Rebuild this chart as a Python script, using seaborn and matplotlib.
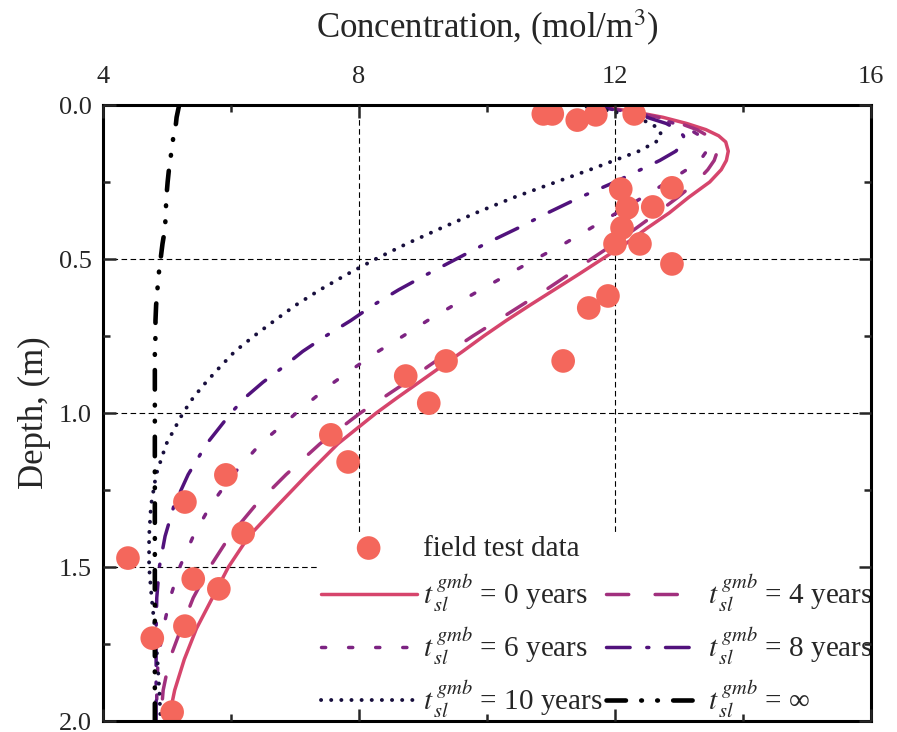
import matplotlib
matplotlib.use('Agg')
import numpy as np
import pandas as pd
import matplotlib.pyplot as plt
import seaborn as sns
from matplotlib.lines import Line2D
from matplotlib.ticker import MultipleLocator


# field test data (concentration in mol/m3, depth in m)
field_conc = [10.88, 11.02, 11.41, 11.70, 12.30, 12.09, 12.89, 12.19, 12.59, 12.11,
              12.00, 12.39, 12.89, 11.89, 11.59, 11.19, 9.36, 8.73, 9.09, 7.56,
              7.83, 5.92, 5.28, 6.19, 4.39, 5.41, 5.81, 5.28, 4.77, 5.08]
field_depth = [0.029, 0.029, 0.049, 0.032, 0.029, 0.273, 0.269, 0.334, 0.331, 0.399,
               0.451, 0.451, 0.516, 0.620, 0.659, 0.831, 0.831, 0.880, 0.968, 1.071,
               1.159, 1.201, 1.289, 1.390, 1.471, 1.539, 1.571, 1.692, 1.731, 1.971]

# model curves, all sampled at the same depths
curve_depth = [0.00, 0.02, 0.04, 0.06, 0.08, 0.10, 0.12, 0.15, 0.18, 0.21, 0.25, 0.30,
               0.35, 0.40, 0.45, 0.50, 0.55, 0.60, 0.65, 0.70, 0.75, 0.80, 0.85, 0.90,
               0.95, 1.00, 1.10, 1.20, 1.30, 1.40, 1.50, 1.60, 1.70, 1.80, 1.90, 2.00]
conc_0y = [11.60, 12.25, 12.75, 13.12, 13.42, 13.62, 13.73, 13.77, 13.74, 13.66, 13.48, 13.15,
           12.85, 12.50, 12.17, 11.80, 11.43, 11.05, 10.67, 10.30, 9.95, 9.62, 9.28, 8.94,
           8.60, 8.27, 7.67, 7.19, 6.73, 6.28, 5.96, 5.71, 5.46, 5.27, 5.12, 5.02]
conc_4y = [11.60, 12.20, 12.68, 13.02, 13.28, 13.45, 13.56, 13.60, 13.55, 13.45, 13.27, 12.98,
           12.66, 12.33, 11.99, 11.63, 11.28, 10.92, 10.54, 10.16, 9.78, 9.42, 9.07, 8.74,
           8.38, 8.02, 7.39, 6.86, 6.38, 5.98, 5.67, 5.41, 5.22, 5.04, 4.94, 4.90]
conc_6y = [11.60, 12.15, 12.60, 12.93, 13.17, 13.33, 13.42, 13.43, 13.33, 13.12, 12.82, 12.43,
           12.03, 11.62, 11.21, 10.76, 10.33, 9.90, 9.48, 9.07, 8.69, 8.30, 7.95, 7.61,
           7.31, 7.02, 6.46, 6.03, 5.68, 5.41, 5.20, 5.05, 4.94, 4.86, 4.84, 4.84]
conc_8y = [11.60, 12.10, 12.50, 12.80, 12.98, 13.07, 13.08, 12.95, 12.70, 12.40, 12.00, 11.45,
           10.95, 10.48, 9.98, 9.52, 9.06, 8.62, 8.22, 7.87, 7.48, 7.12, 6.82, 6.50,
           6.22, 6.00, 5.62, 5.33, 5.11, 4.97, 4.88, 4.84, 4.83, 4.83, 4.83, 4.83]
conc_10y = [11.40, 11.95, 12.32, 12.56, 12.70, 12.72, 12.64, 12.37, 11.99, 11.61, 11.08, 10.42,
            9.83, 9.28, 8.75, 8.26, 7.81, 7.39, 7.01, 6.68, 6.36, 6.06, 5.83, 5.61,
            5.41, 5.25, 4.99, 4.83, 4.75, 4.72, 4.72, 4.76, 4.81, 4.85, 4.88, 4.90]
conc_inf = [5.19, 5.17, 5.15, 5.14, 5.12, 5.10, 5.09, 5.07, 5.05, 5.03, 5.01, 4.99,
            4.98, 4.97, 4.93, 4.90, 4.87, 4.85, 4.83, 4.82, 4.82, 4.81, 4.81, 4.81,
            4.81, 4.81, 4.81, 4.81, 4.81, 4.81, 4.81, 4.81, 4.81, 4.81, 4.81, 4.81]

series_labels = ['0 years', '4 years', '6 years', '8 years', '10 years', '∞']

sns.set_style("ticks")
plt.rcParams['font.family'] = ['Liberation Serif', 'DejaVu Serif']
plt.rcParams['mathtext.fontset'] = 'stix'
plt.rcParams['lines.scale_dashes'] = False

magma = sns.color_palette("magma", as_cmap=True)
point_color = magma(0.68)
styles = [
    dict(color=magma(0.58), linewidth=2.5, linestyle='-'),
    dict(color=magma(0.45), linewidth=2.5, linestyle=(0, (16, 19))),
    dict(color=magma(0.36), linewidth=2.5, linestyle=(0, (3, 16.5))),
    dict(color=magma(0.25), linewidth=2.5, linestyle=(0, (17, 12, 1.5, 12))),
    dict(color=magma(0.11), linewidth=2.8, linestyle=(0, (0.1, 7.2))),
    dict(color='black', linewidth=3.3, linestyle=(0, (14, 11, 0.5, 11, 0.5, 11))),
]

fig = plt.figure(figsize=(8.97, 7.32), dpi=100)
ax = fig.add_axes([103 / 897, 11 / 732, 768 / 897, 616 / 732])

curves = [conc_0y, conc_4y, conc_6y, conc_8y, conc_10y, conc_inf]
lines = []
for conc, lab, st in zip(curves, series_labels, styles):
    df = pd.DataFrame({'conc': conc, 'depth': curve_depth})
    sns.lineplot(data=df, x='conc', y='depth', orient='y', estimator=None,
                 ax=ax, legend=False, dash_capstyle='round', solid_capstyle='round',
                 zorder=3, **st)
    lines.append(ax.lines[-1])

pts_df = pd.DataFrame({'conc': field_conc, 'depth': field_depth})
sns.scatterplot(data=pts_df, x='conc', y='depth', ax=ax, s=290, color=point_color,
                edgecolor='none', linewidth=0, zorder=5, legend=False)
pts = ax.collections[-1]

ax.set_xlim(4, 16)
ax.set_ylim(2, 0)
ax.xaxis.set_major_locator(MultipleLocator(4))
ax.xaxis.set_minor_locator(MultipleLocator(2))
ax.yaxis.set_major_locator(MultipleLocator(0.5))
ax.yaxis.set_minor_locator(MultipleLocator(0.25))
ax.yaxis.set_major_formatter(matplotlib.ticker.FormatStrFormatter('%.1f'))
ax.xaxis.tick_top()
ax.xaxis.set_label_position('top')
ax.tick_params(which='both', direction='in', top=True, bottom=True, left=True, right=True,
               labeltop=True, labelbottom=False, labelright=False, width=1.8, labelsize=19)
ax.tick_params(which='major', length=9, pad=8)
ax.tick_params(which='minor', length=5)
ax.tick_params(axis='x', which='major', pad=12)
for sp in ax.spines.values():
    sp.set_linewidth(2.2)
    sp.set_color('black')
    sp.set_zorder(12)
ax.xaxis.set_zorder(12)
ax.yaxis.set_zorder(12)

# dashed grid at the inner major ticks, kept below the curves and the legend box
grid_style = dict(color='black', linestyle=(0, (4, 2.5)), linewidth=0.8, zorder=1)
for xv in ax.xaxis.get_majorticklocs():
    if 4 < xv < 16:
        ax.axvline(xv, **grid_style)
for yv in ax.yaxis.get_majorticklocs():
    if 0 < yv < 2:
        ax.axhline(yv, **grid_style)

ax.set_xlabel('Concentration, (mol/m$^3$)', fontsize=25, labelpad=20)
ax.set_ylabel('Depth, (m)', fontsize=25, labelpad=6)

blank = Line2D([], [], linestyle='none')
tlabel = r'$t_{\,sl}^{\,gmb}$' + ' = '
handles = [pts, lines[0], lines[2], lines[4], blank, lines[1], lines[3], lines[5]]
labels = ['field test data', tlabel + series_labels[0], tlabel + series_labels[2],
          tlabel + series_labels[4], '', tlabel + series_labels[1], tlabel + series_labels[3],
          tlabel + series_labels[5]]
leg = ax.legend(handles, labels, ncol=2, loc='lower right', bbox_to_anchor=(1.004, 0),
                borderaxespad=0.0, frameon=True, fancybox=False, facecolor='white',
                edgecolor='none', framealpha=1, fontsize=21, handlelength=3.3,
                handletextpad=0.2, columnspacing=0.12, labelspacing=0.39, borderpad=0.05)
leg.set_zorder(10)

plt.savefig('out.png', dpi=100)
plt.close()
